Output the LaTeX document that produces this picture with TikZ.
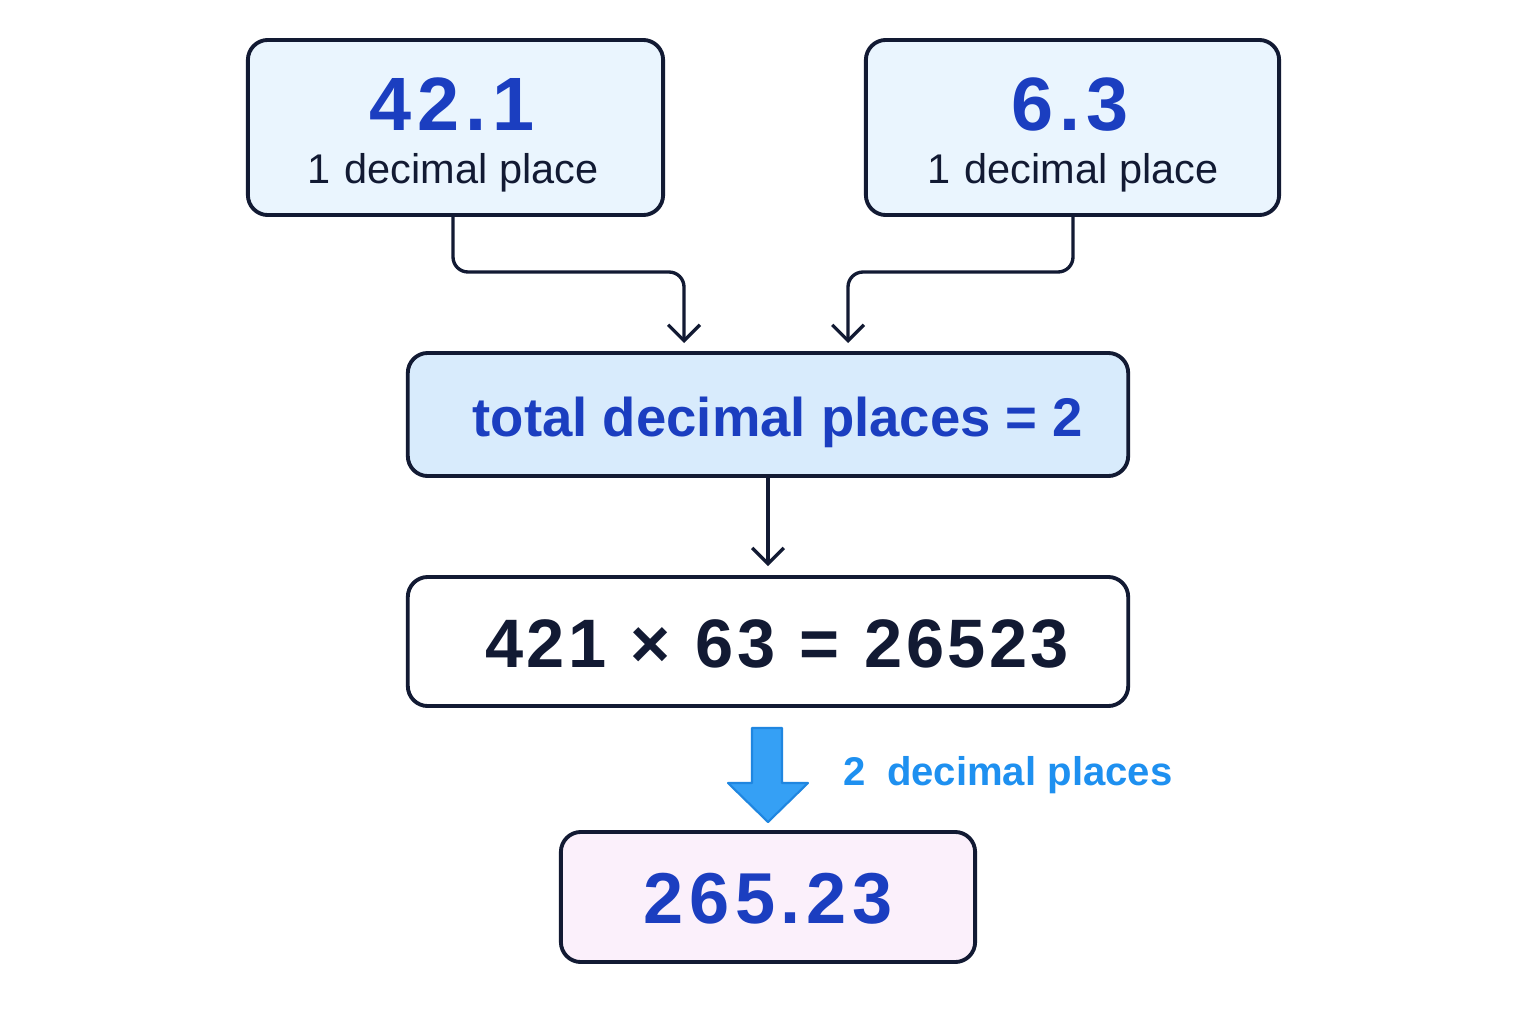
\documentclass[tikz,border=0pt]{standalone}
\usepackage{fontspec}
\setmainfont{Liberation Sans}
\newfontfamily\widenum{Liberation Sans}[LetterSpace=8]
\newfontfamily\widetext{Liberation Sans}[LetterSpace=5]
\usetikzlibrary{arrows.meta}
\definecolor{navy}{HTML}{121A33}
\definecolor{numblue}{HTML}{1B3EC0}
\definecolor{skyblue}{HTML}{1E90F0}
\definecolor{arrowblue}{HTML}{35A0F5}
\definecolor{arrowedge}{HTML}{1F86E0}
\definecolor{fillin}{HTML}{EAF5FE}
\definecolor{fillsum}{HTML}{D8EBFC}
\definecolor{fillout}{HTML}{FBF0FB}
\tikzset{
  box/.style={draw=navy,line width=1.1pt,rounded corners=0.2cm,inner sep=0pt},
  link/.style={draw=navy,line width=0.95pt,rounded corners=0.15cm,
    -{Straight Barb[length=4.5pt,width=9pt,line width=0.95pt]}},
  bignum/.style={anchor=base,text=numblue,font=\widenum\bfseries\fontsize{21.5}{26}\selectfont},
  sublabel/.style={anchor=base,text=navy,font=\fontsize{11.8}{14}\selectfont}
}
\begin{document}
\begin{tikzpicture}[x=0.01cm,y=-0.01cm]
\useasboundingbox (0,0) rectangle (1536,1024);
\fill[white] (0,0) rectangle (1536,1024);
% input numbers
\node[box,fill=fillin,minimum width=4.15cm,minimum height=1.75cm] (first) at (455.5,127.5) {};
\node[box,fill=fillin,minimum width=4.13cm,minimum height=1.75cm] (second) at (1072.5,127.5) {};
\node[bignum] (firstnum) at (452,130) {42.1};
\node[sublabel] (firstdec) at (453,183) {1\hspace{4pt}decimal place};
\node[bignum] (secondnum) at (1070,130) {6.3};
\node[sublabel] (seconddec) at (1073,183) {1\hspace{4pt}decimal place};
% sum of places and product
\node[box,fill=fillsum,minimum width=7.2cm,minimum height=1.23cm] (total) at (768,414.5) {};
\node[anchor=base,text=numblue,font=\bfseries\fontsize{15.5}{18}\selectfont] (totaltext) at (778,436) {total decimal places = 2};
\node[box,fill=white,minimum width=7.2cm,minimum height=1.29cm] (product) at (768,641.5) {};
\node[anchor=base,text=navy,font=\widetext\bfseries\fontsize{19.5}{24}\selectfont] (producttext) at (777,667)
  {421\hspace{7pt}×\hspace{7pt}63\hspace{7pt}=\hspace{7pt}26523};
% result
\node[box,fill=fillout,minimum width=4.14cm,minimum height=1.3cm] (result) at (768,897) {};
\node[bignum,font=\widenum\bfseries\fontsize{20.5}{24}\selectfont] (resulttext) at (768,923) {265.23};
\draw[fill=arrowblue,draw=arrowedge,line width=0.6pt,line join=round]
  (752,728) -- (782,728) -- (782,783) -- (808,783) -- (768,822) -- (728,783) -- (752,783) -- cycle;
\node[anchor=base west,inner sep=0pt,text=skyblue,font=\bfseries\fontsize{11.4}{16}\selectfont] (shiftnote) at (843,785) {2\hspace{6pt}decimal places};
% connectors
\coordinate (jointa) at (684,343);
\coordinate (jointb) at (848,343);
\draw[link] (first.south -| 453,0) -- (453,272) -- (684,272) -- (jointa);
\draw[link] (second.south -| 1073,0) -- (1073,272) -- (848,272) -- (jointb);
\draw[link] (total.south) -- ([yshift=0.09cm]product.north);
\end{tikzpicture}
\end{document}
